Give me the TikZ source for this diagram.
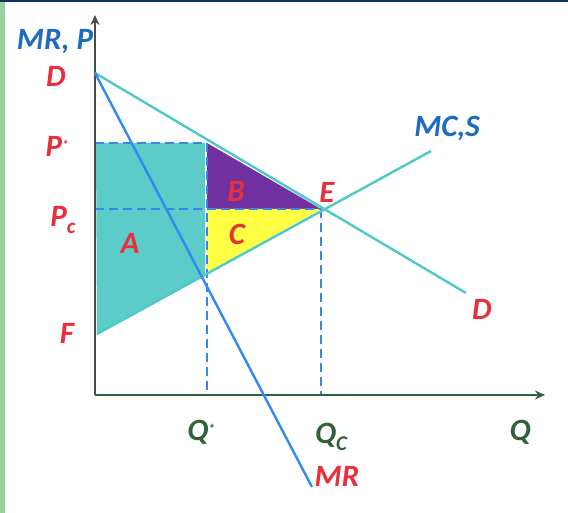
\documentclass[tikz,border=0pt]{standalone}
\usepackage{fontspec}
\setmainfont{Carlito}
\usetikzlibrary{arrows.meta}

\definecolor{tealln}{HTML}{4FC9C6}
\definecolor{tealfill}{HTML}{5BCCC8}
\definecolor{mrblue}{HTML}{3389F0}
\definecolor{dashblue}{HTML}{3A86E6}
\definecolor{lblred}{HTML}{E8303A}
\definecolor{lblblue}{HTML}{1E6CC0}
\definecolor{axgreen}{HTML}{2F6238}
\definecolor{purp}{HTML}{7030A0}
\definecolor{yell}{HTML}{FFFF44}
\definecolor{sidebar}{HTML}{98D0A0}
\definecolor{topbar}{HTML}{12305A}

\tikzset{
    lbl/.style={font=\fontsize{31}{31}\selectfont\bfseries\itshape, inner sep=0pt},
    redlbl/.style={lbl, text=lblred},
    bluelbl/.style={lbl, text=lblblue},
    qlbl/.style={lbl, text=axgreen},
    guide/.style={dashblue, line width=2pt, dash pattern=on 9pt off 5pt},
    curve/.style={tealln, line width=2.4pt},
}

\begin{document}
\begin{tikzpicture}[x=1pt,y=-1pt]
            \useasboundingbox (0,0) rectangle (568,513);
            % frame
            \fill[white] (0,0) rectangle (568,513);
            \fill[sidebar] (0,0) rectangle (5,513);
            \fill[topbar] (0,0) rectangle (568,2.2);

            \coordinate (o) at (95,395);
            \coordinate (d0) at (95,73);
            \coordinate (d1) at (466,293);
            \coordinate (f) at (97,334);
            \coordinate (s1) at (431,151);
            \coordinate (e) at (321,209);
            \coordinate (pstar) at (95,143);
            \coordinate (top) at (207,143);
            \coordinate (mid) at (207,209);
            \coordinate (low) at (207,273);
            \coordinate (pc) at (95,209);
            \coordinate (qs) at (207,395);
            \coordinate (qc) at (321,395);
            \coordinate (mr1) at (312,487);

            % areas
            \fill[tealfill] (96,143) -- (205,143) -- (205,274) -- (f) -- cycle;
            \fill[purp] (top) -- (e) -- (mid) -- cycle;
            \fill[yell] (mid) -- (e) -- (low) -- cycle;

            % guides
            \draw[guide] (pstar) -- (top);
            \draw[guide] (pc) -- (e);
            \draw[guide] (top) -- (qs);
            \draw[guide] (e) -- (qc);

            % axes
            \draw[black!70, line width=2pt, -{Stealth[length=10pt,width=9pt]}] (o) -- (95,15);
            \draw[axgreen, line width=2pt, -{Stealth[length=10pt,width=9pt]}] (o) -- (545,395);

            % curves
            \draw[curve] (d0) -- (d1);
            \draw[curve] (f) -- (s1);
            \draw[mrblue, line width=2.4pt] (d0) -- (mr1);

            % labels
            \node[bluelbl] (yl) at (55,42) {MR, P};
            \node[redlbl] (dl) at (56,76) {D};
            \node[redlbl] (psl) at (57,146) {P\raisebox{7pt}{\fontsize{13}{13}\selectfont *}};
            \node[redlbl] (pcl) at (63,220) {P\raisebox{-7pt}{\fontsize{21}{21}\selectfont c}};
            \node[redlbl] (al) at (130,243) {A};
            \node[redlbl] (fl) at (67,333) {F};
            \node[redlbl] (bl) at (236,191) {B};
            \node[redlbl] (cl) at (237,234) {C};
            \node[redlbl] (el) at (327,192) {E};
            \node[bluelbl] (msl) at (447,128) {MC,S};
            \node[redlbl] (dr) at (482,309) {D};
            \node[qlbl] (qsl) at (201,432) {Q\raisebox{7pt}{\fontsize{13}{13}\selectfont *}};
            \node[qlbl] (qcl) at (331,437) {Q\raisebox{-7pt}{\fontsize{21}{21}\selectfont C}};
            \node[qlbl] (ql) at (520,432) {Q};
            \node[redlbl] (mrl) at (337,476) {MR};
\end{tikzpicture}
\end{document}
